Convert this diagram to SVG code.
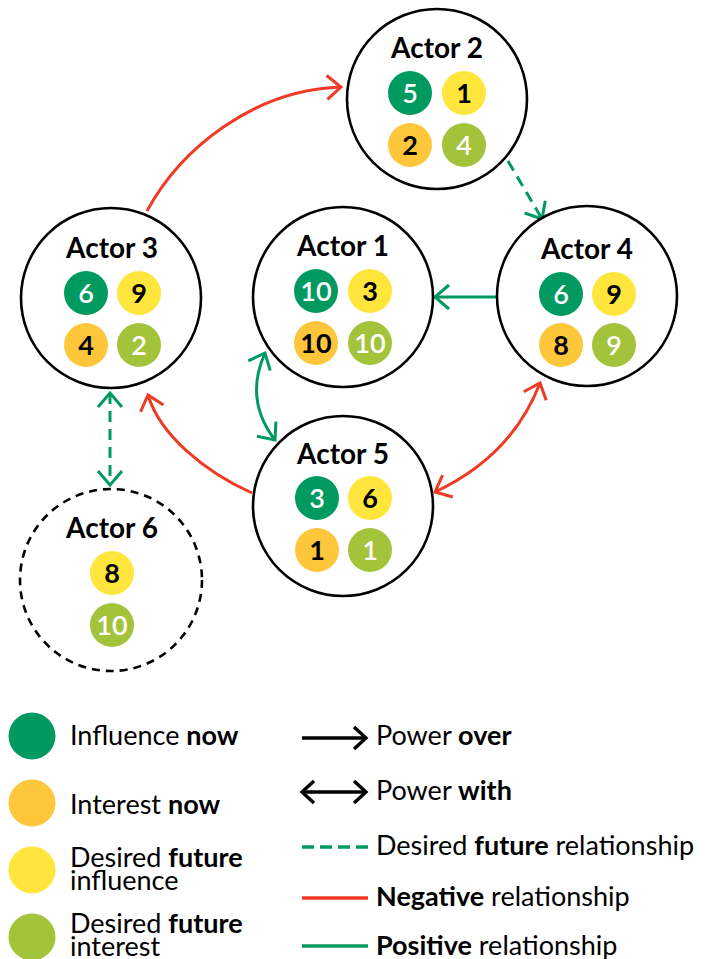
<svg xmlns="http://www.w3.org/2000/svg" width="708" height="959" viewBox="0 0 708 959">
  <style>
    text { font-family: Lato, "Open Sans", "Liberation Sans", sans-serif; }
    .actor { fill: #ffffff; stroke: #000000; stroke-width: 2.6; }
    .actor.dashed { stroke-dasharray: 8 6; }
    .title { font-size: 28px; font-weight: bold; fill: #000000; text-anchor: middle; }
    .num { font-size: 27px; text-anchor: middle; }
    .num.dark { font-weight: bold; fill: #000000; }
    .num.light { font-weight: 600; fill: #ffffff; }
    .inf-now { fill: #009a61; }
    .int-now { fill: #fec63b; }
    .inf-fut { fill: #ffe53c; }
    .int-fut { fill: #a3c33a; }
    .link { fill: none; stroke-width: 3; }
    .neg { stroke: #ef3a25; }
    .pos { stroke: #009a61; }
    .fut { stroke: #009a61; stroke-dasharray: 11 7; }
    .legend { font-size: 27px; fill: #000000; }
    .key { fill: none; stroke-width: 3.4; }
  </style>
  <defs>
    <marker id="head-red" markerUnits="userSpaceOnUse" orient="auto-start-reverse" overflow="visible" refX="0" refY="0">
      <path d="M-14,-12 L0,0 L-14,12" fill="none" stroke="#ef3a25" stroke-width="3"/>
    </marker>
    <marker id="head-green" markerUnits="userSpaceOnUse" orient="auto-start-reverse" overflow="visible" refX="0" refY="0">
      <path d="M-14,-12 L0,0 L-14,12" fill="none" stroke="#009a61" stroke-width="3"/>
    </marker>
    <marker id="head-black" markerUnits="userSpaceOnUse" orient="auto-start-reverse" overflow="visible" refX="0" refY="0">
      <path d="M-12,-11 L0,0 L-12,11" fill="none" stroke="#000000" stroke-width="3.4"/>
    </marker>
  </defs>

  <rect width="708" height="959" fill="#ffffff"/>

  <!-- relationships between actors -->
  <g id="connectors">
    <!-- Actor 3 has power over Actor 2 (negative) -->
    <path class="link neg" d="M147,211 C180,150 252,90 341,87" marker-end="url(#head-red)"/>
    <!-- Actor 2 to Actor 4, desired future -->
    <path class="link fut" d="M508,161 L542,219" marker-end="url(#head-green)"/>
    <!-- Actor 4 has power over Actor 1 (positive) -->
    <path class="link pos" d="M496,297 L435,297" marker-end="url(#head-green)"/>
    <!-- Actor 1 with Actor 5 (positive) -->
    <path class="link pos" d="M265,353 Q244,400 275,440" marker-start="url(#head-green)" marker-end="url(#head-green)"/>
    <!-- Actor 5 has power over Actor 3 (negative) -->
    <path class="link neg" d="M252,493 C205,472 160,435 148,395" marker-end="url(#head-red)"/>
    <!-- Actor 5 with Actor 4 (negative) -->
    <path class="link neg" d="M435,492 Q512,456 540,383" marker-start="url(#head-red)" marker-end="url(#head-red)"/>
    <!-- Actor 3 with Actor 6, desired future -->
    <path class="link fut" d="M110,393 L110,485" marker-start="url(#head-green)" marker-end="url(#head-green)"/>
  </g>

  <g id="actor-1">
    <circle class="actor" cx="343" cy="297" r="90"/>
    <text class="title" x="343" y="256">Actor 1</text>
    <circle class="inf-now" cx="316" cy="291" r="22"/>
    <circle class="inf-fut" cx="370" cy="291" r="22"/>
    <circle class="int-now" cx="316" cy="343" r="22"/>
    <circle class="int-fut" cx="370" cy="343" r="22"/>
    <text class="num light" x="316" y="300.5">10</text>
    <text class="num dark" x="370" y="300.5">3</text>
    <text class="num dark" x="316" y="352.5">10</text>
    <text class="num light" x="370" y="352.5">10</text>
  </g>

  <g id="actor-2">
    <circle class="actor" cx="437" cy="99" r="90"/>
    <text class="title" x="437" y="58">Actor 2</text>
    <circle class="inf-now" cx="410" cy="93" r="22"/>
    <circle class="inf-fut" cx="464" cy="93" r="22"/>
    <circle class="int-now" cx="410" cy="145" r="22"/>
    <circle class="int-fut" cx="464" cy="145" r="22"/>
    <text class="num light" x="410" y="102.5">5</text>
    <text class="num dark" x="464" y="102.5">1</text>
    <text class="num dark" x="410" y="154.5">2</text>
    <text class="num light" x="464" y="154.5">4</text>
  </g>

  <g id="actor-3">
    <circle class="actor" cx="111" cy="298" r="90"/>
    <text class="title" x="112" y="258">Actor 3</text>
    <circle class="inf-now" cx="86" cy="293" r="22"/>
    <circle class="inf-fut" cx="139" cy="293" r="22"/>
    <circle class="int-now" cx="86" cy="345" r="22"/>
    <circle class="int-fut" cx="139" cy="345" r="22"/>
    <text class="num light" x="86" y="302.5">6</text>
    <text class="num dark" x="139" y="302.5">9</text>
    <text class="num dark" x="86" y="354.5">4</text>
    <text class="num light" x="139" y="354.5">2</text>
  </g>

  <g id="actor-4">
    <circle class="actor" cx="587" cy="296" r="90"/>
    <text class="title" x="587" y="259">Actor 4</text>
    <circle class="inf-now" cx="561" cy="294" r="22"/>
    <circle class="inf-fut" cx="614" cy="294" r="22"/>
    <circle class="int-now" cx="561" cy="345" r="22"/>
    <circle class="int-fut" cx="614" cy="345" r="22"/>
    <text class="num light" x="561" y="303.5">6</text>
    <text class="num dark" x="614" y="303.5">9</text>
    <text class="num dark" x="561" y="354.5">8</text>
    <text class="num light" x="614" y="354.5">9</text>
  </g>

  <g id="actor-5">
    <circle class="actor" cx="343" cy="506" r="90"/>
    <text class="title" x="343" y="464">Actor 5</text>
    <circle class="inf-now" cx="317" cy="498" r="22"/>
    <circle class="inf-fut" cx="370" cy="498" r="22"/>
    <circle class="int-now" cx="317" cy="550" r="22"/>
    <circle class="int-fut" cx="370" cy="550" r="22"/>
    <text class="num light" x="317" y="507.5">3</text>
    <text class="num dark" x="370" y="507.5">6</text>
    <text class="num dark" x="317" y="559.5">1</text>
    <text class="num light" x="370" y="559.5">1</text>
  </g>

  <g id="actor-6">
    <circle class="actor dashed" cx="111" cy="580" r="91"/>
    <text class="title" x="112" y="538">Actor 6</text>
    <circle class="inf-fut" cx="112" cy="573" r="22"/>
    <circle class="int-fut" cx="112" cy="625" r="22"/>
    <text class="num dark" x="112" y="582.5">8</text>
    <text class="num light" x="112" y="634.5">10</text>
  </g>

  <!-- key: circle colours -->
  <g id="legend-circles">
    <circle class="inf-now" cx="32" cy="736" r="23.5"/>
    <text class="legend" x="70" y="745">Influence <tspan font-weight="bold">now</tspan></text>
    <circle class="int-now" cx="32" cy="803" r="23.5"/>
    <text class="legend" x="70" y="814">Interest <tspan font-weight="bold">now</tspan></text>
    <circle class="inf-fut" cx="32" cy="870" r="23.5"/>
    <text class="legend" x="70" y="867">Desired <tspan font-weight="bold">future</tspan></text>
    <text class="legend" x="70" y="890">influence</text>
    <circle class="int-fut" cx="32" cy="937" r="23.5"/>
    <text class="legend" x="70" y="933">Desired <tspan font-weight="bold">future</tspan></text>
    <text class="legend" x="70" y="956">interest</text>
  </g>

  <!-- key: line styles -->
  <g id="legend-lines">
    <path class="key" stroke="#000000" d="M302,738 L366,738" marker-end="url(#head-black)"/>
    <text class="legend" x="376" y="745">Power <tspan font-weight="bold">over</tspan></text>
    <path class="key" stroke="#000000" d="M302,792 L366,792" marker-start="url(#head-black)" marker-end="url(#head-black)"/>
    <text class="legend" x="376" y="800">Power <tspan font-weight="bold">with</tspan></text>
    <path class="key" stroke="#009a61" stroke-dasharray="12 6" d="M302,847 L368,847"/>
    <text class="legend" x="376" y="855">Desired <tspan font-weight="bold">future</tspan> relationship</text>
    <path class="key" stroke="#ef3a25" d="M302,898 L368,898"/>
    <text class="legend" x="376" y="906"><tspan font-weight="bold">Negative</tspan> relationship</text>
    <path class="key" stroke="#009a61" d="M302,946 L368,946"/>
    <text class="legend" x="376" y="955"><tspan font-weight="bold">Positive</tspan> relationship</text>
  </g>
</svg>
